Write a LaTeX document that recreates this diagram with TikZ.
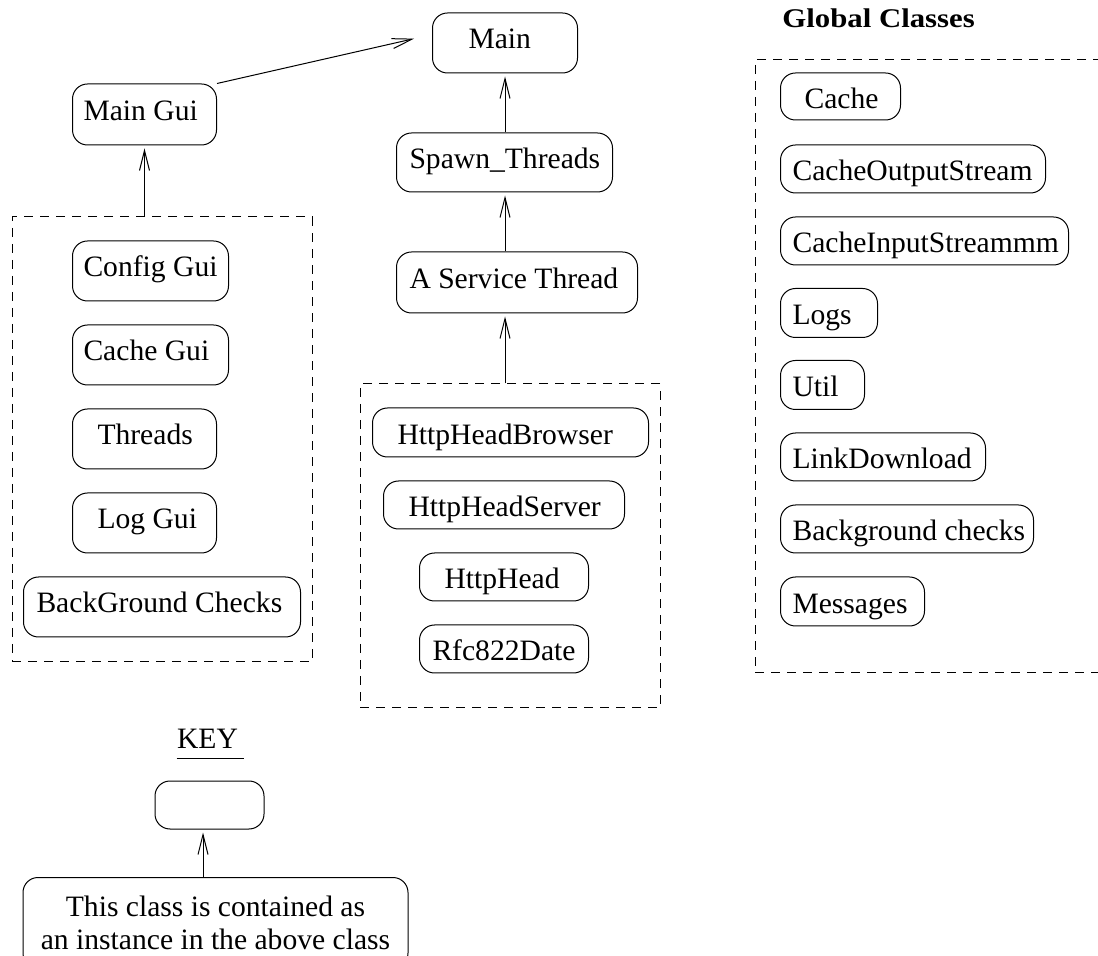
\documentclass[tikz,border=0pt]{standalone}
\usepackage{fontspec}
\usepackage{graphicx}
\setmainfont{Liberation Serif}
\usetikzlibrary{arrows.meta}

% text sizes: class labels and the heading of the global group
\newcommand\boxtextfont{\fontsize{14.8pt}{16.5pt}\selectfont}
\newcommand\headfont{\fontsize{13.5pt}{16pt}\selectfont\bfseries}
% left-aligned label of fixed width inside a class box
\newcommand\cname[2]{\makebox[#1][l]{#2}}

\tikzset{
  cls/.style={draw, line width=0.5pt, rounded corners=7.5pt, anchor=west,
              inner ysep=0pt, font=\boxtextfont},
  tallbox/.style={cls, text height=9.5pt, text depth=3.5pt},
  flatbox/.style={cls, text height=12pt, text depth=0pt},
  grp/.style={draw, line width=0.5pt, dash pattern=on 4.5pt off 3.5pt, inner sep=0pt},
  arr/.style={line width=0.5pt, -{Straight Barb[length=10pt,width=5pt]}, shorten >=1.5pt},
}

\begin{document}
\begin{tikzpicture}[x=0.5pt, y=-0.5pt]
\useasboundingbox (0,0) rectangle (1098,956);
\clip (0,0) rectangle (1098,956);

% --- top chain ---
\node[tallbox, minimum height=30pt, inner xsep=18pt] (main) at (432,43) {\cname{36.5pt}{Main}};
\node[tallbox, minimum height=30.5pt, inner xsep=5.5pt] (maingui) at (72,114.5) {\cname{61pt}{Main Gui}};
\node[tallbox, minimum height=29.5pt, inner xsep=6.5pt] (spawn) at (396,162.5) {\cname{95pt}{Spawn\_Threads}};
\node[tallbox, minimum height=30.5pt, inner xsep=6.5pt] (ast) at (396,282.5) {\cname{107.5pt}{A Service Thread}};

% --- GUI group ---
\node[grp, minimum width=150pt, minimum height=222.5pt] (leftgrp) at (162,439.5) {};
\node[tallbox, minimum height=30pt, inner xsep=5.5pt] (configgui) at (72,271) {\cname{67pt}{Config Gui}};
\node[tallbox, minimum height=30pt, inner xsep=5.5pt] (cachegui) at (72,355) {\cname{67pt}{Cache Gui}};
\node[tallbox, minimum height=30pt, inner xsep=12.5pt] (threads) at (72,439) {\cname{47pt}{Threads}};
\node[tallbox, minimum height=30pt, inner xsep=12.5pt] (loggui) at (72,523) {\cname{47pt}{Log Gui}};
\node[tallbox, minimum height=30pt, inner xsep=6.5pt] (bgchecks) at (23,607) {\cname{125.5pt}{BackGround Checks}};

% --- HTTP group ---
\node[grp, minimum width=150pt, minimum height=162pt] (midgrp) at (510,546) {};
\node[flatbox, minimum height=24.5pt, inner xsep=12.5pt] (httpbrowser) at (372,432.5) {\cname{113pt}{HttpHeadBrowser}};
\node[flatbox, minimum height=24pt, inner xsep=12.5pt] (httpserver) at (383,505) {\cname{95.5pt}{HttpHeadServer}};
\node[flatbox, minimum height=24pt, inner xsep=12.5pt] (httphead) at (419,577) {\cname{59.5pt}{HttpHead}};
\node[flatbox, minimum height=24pt, inner xsep=6.5pt] (rfc) at (419,649) {\cname{71.5pt}{Rfc822Date}};

% --- global classes (frame open to the right) ---
\node[anchor=base west, inner sep=0pt, font=\headfont] (globlbl) at (782,28) {\scalebox{1.14}[1]{Global Classes}};
\node[grp, minimum width=177.5pt, minimum height=306.5pt] (globgrp) at (932.5,366.5) {};
\node[flatbox, minimum height=23.5pt, inner xsep=12pt] (cache) at (780,96.5) {\cname{36pt}{Cache}};
\node[flatbox, minimum height=24pt, inner xsep=6pt] (cos) at (780,169) {\cname{120.5pt}{CacheOutputStream}};
\node[flatbox, minimum height=24pt, inner xsep=6pt] (cis) at (780,241) {\cname{132pt}{CacheInputStreammm}};
\node[flatbox, minimum height=24.5pt, inner xsep=6pt] (logs) at (780,313) {\cname{36.5pt}{Logs}};
\node[flatbox, minimum height=24.5pt, inner xsep=6pt] (util) at (780,385) {\cname{30pt}{Util}};
\node[flatbox, minimum height=24pt, inner xsep=6pt] (link) at (780,457) {\cname{90.5pt}{LinkDownload}};
\node[flatbox, minimum height=24pt, inner xsep=6pt] (bgc) at (780,529) {\cname{114.5pt}{Background checks}};
\node[flatbox, minimum height=24.5pt, inner xsep=6pt] (msgs) at (780,601.5) {\cname{60pt}{Messages}};

% --- containment arrows ---
\draw[arr] (maingui.north east) -- ([xshift=-7.5pt,yshift=2.5pt]main.west);
\draw[arr] (main.south |- spawn.north) -- (main.south);
\draw[arr] (main.south |- ast.north) -- (main.south |- spawn.south);
\draw[arr] (main.south |- midgrp.north) -- (main.south |- ast.south);
\draw[arr] (maingui.south |- leftgrp.north) -- (maingui.south);

% --- key ---
\node[anchor=base, inner sep=0pt, font=\boxtextfont] (keylbl) at (207.5,748) {KEY};
\draw[line width=0.5pt] ([yshift=-5pt]keylbl.base west) -- ([yshift=-5pt,xshift=3pt]keylbl.base east);
\node[draw, line width=0.5pt, rounded corners=7.5pt, minimum width=54.5pt, minimum height=24pt, inner sep=0pt] (keybox) at (209.5,805) {};
\node[draw, line width=0.5pt, rounded corners=7.5pt, anchor=north, minimum width=192.5pt,
      inner ysep=9.2pt, align=center, font=\boxtextfont] (keynote) at (215.5,877)
      {This class is contained as\\an instance in the above class};
\coordinate (keyx) at (203,0);
\draw[arr] (keynote.north -| keyx) -- (keybox.south -| keyx);
\end{tikzpicture}
\end{document}
